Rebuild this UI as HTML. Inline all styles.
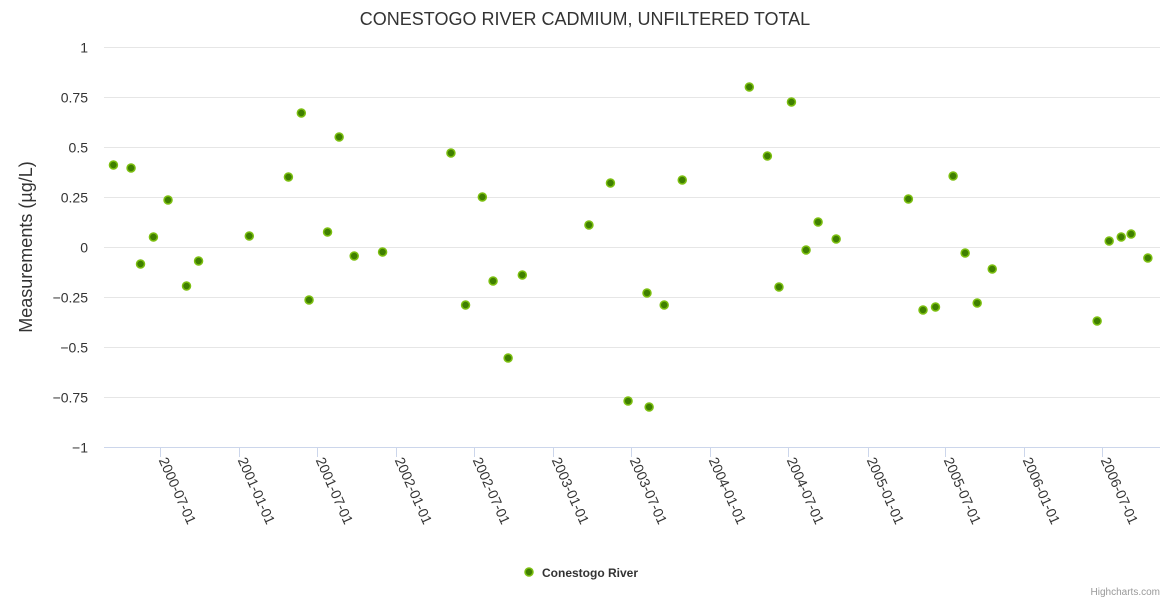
<!DOCTYPE html>
<html><head><meta charset="utf-8"><style>
body{margin:0;background:#fff;}
svg text{font-family:"Liberation Sans",sans-serif;}
</style></head><body>
<svg id="c" width="1170" height="600" xmlns="http://www.w3.org/2000/svg">
<rect width="1170" height="600" fill="#fff"/>
<text x="585" y="25" text-anchor="middle" font-size="18" fill="#333">CONESTOGO RIVER CADMIUM, UNFILTERED TOTAL</text>
<text transform="translate(32,247) rotate(-90)" text-anchor="middle" font-size="18" fill="#333">Measurements (µg/L)</text>
<g id="grid"></g><g id="xa"></g><g id="pts"></g>
<g>
<circle cx="529" cy="572" r="4" fill="#3f7f00" stroke="#7cbf10" stroke-width="1.5"/>
<text x="542" y="577" font-size="12" font-weight="bold" fill="#333">Conestogo River</text>
</g>
<text x="1160" y="595" text-anchor="end" font-size="10" fill="#999">Highcharts.com</text>
</svg>
<script>
const dates=["2000-03-14","2000-04-24","2000-05-16","2000-06-15","2000-07-19","2000-08-31","2000-09-28","2001-01-24","2001-04-25","2001-05-25","2001-06-12","2001-07-25","2001-08-21","2001-09-25","2001-11-30","2002-05-08","2002-06-11","2002-07-20","2002-08-14","2002-09-18","2002-10-21","2003-03-25","2003-05-14","2003-06-24","2003-08-07","2003-08-12","2003-09-16","2003-10-28","2004-04-01","2004-05-13","2004-06-09","2004-07-08","2004-08-11","2004-09-08","2004-10-20","2005-04-06","2005-05-10","2005-06-08","2005-07-19","2005-08-16","2005-09-13","2005-10-18","2006-06-19","2006-07-17","2006-08-14","2006-09-06","2006-10-15"];
const values=[0.41,0.395,-0.085,0.05,0.235,-0.195,-0.07,0.055,0.35,0.67,-0.265,0.075,0.55,-0.045,-0.025,0.47,-0.29,0.25,-0.17,-0.555,-0.14,0.11,0.32,-0.77,-0.23,-0.80,-0.29,0.335,0.80,0.455,-0.20,0.725,-0.015,0.125,0.04,0.24,-0.315,-0.30,0.355,-0.03,-0.28,-0.11,-0.37,0.03,0.05,0.065,-0.055];
const yTicks=[1,0.75,0.5,0.25,0,-0.25,-0.5,-0.75,-1];
const yLabels=["1","0.75","0.5","0.25","0","−0.25","−0.5","−0.75","−1"];
const xTicks=["2000-07-01","2001-01-01","2001-07-01","2002-01-01","2002-07-01","2003-01-01","2003-07-01","2004-01-01","2004-07-01","2005-01-01","2005-07-01","2006-01-01","2006-07-01"];
const NS="http://www.w3.org/2000/svg";
const L=104,R=1160,T=47,B=447;
const t0=Date.UTC(2000,6,1),t1=Date.UTC(2006,6,1);
function ms(s){const p=s.split('-');return Date.UTC(+p[0],+p[1]-1,+p[2]);}
function xS(s){return 160.3+(ms(s)-t0)/(t1-t0)*(1102.3-160.3);}
function yS(v){return T+(1-v)/2*(B-T);}
function mk(tag,a,parent){const e=document.createElementNS(NS,tag);for(const k in a)e.setAttribute(k,a[k]);parent.appendChild(e);return e;}
const grid=document.getElementById('grid'),xa=document.getElementById('xa'),pts=document.getElementById('pts');
yTicks.forEach((v,i)=>{
  const y=Math.round(yS(v))+0.5;
  if(v!==-1){const g=mk('line',{x1:L,x2:R,y1:y,y2:y,stroke:'#e6e6e6'},grid);
  
  }
  const t=mk('text',{x:88,y:y+5,'text-anchor':'end','font-size':14,fill:'#333'},grid);
  t.textContent=yLabels[i];
  
  
});
const ax=mk('line',{x1:L,x2:R,y1:B+0.5,y2:B+0.5,stroke:'#ccd6eb'},xa);


xTicks.forEach(d=>{
  const x=Math.round(xS(d))+0.5;
  const tk=mk('line',{x1:x,x2:x,y1:B,y2:B+10,stroke:'#ccd6eb'},xa);
  
  
  const t=mk('text',{transform:`translate(${x-2},${B+13}) rotate(66)`,'font-size':14,fill:'#333'},xa);
  t.textContent=d;
  
  
});
dates.forEach((d,i)=>{
  const c=mk('circle',{cx:xS(d),cy:yS(values[i]),r:4,fill:'#3f7f00',stroke:'#7cbf10','stroke-width':1.5},pts);
  
  
});
</script>
</body></html>
